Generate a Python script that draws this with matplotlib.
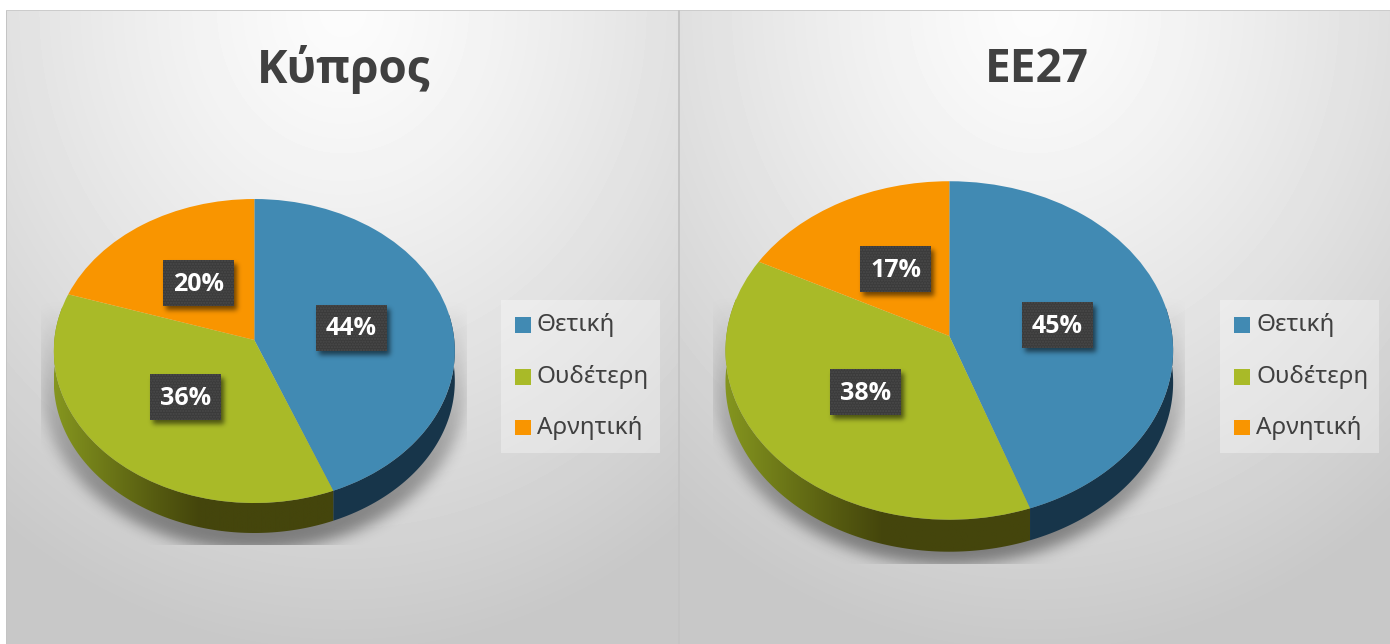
import numpy as np
import matplotlib
matplotlib.use('Agg')
import matplotlib.pyplot as plt
from matplotlib.patches import Rectangle, Polygon
from matplotlib.transforms import Transform

# dados
categorias = ['Θετική', 'Ουδέτερη', 'Αρνητική']
titulos = ['Κύπρος', 'ΕΕ27']
valores_cy = [44, 36, 20]
valores_eu = [44.6, 38, 17.4]
cores = ['#418AB3', '#A9BA28', '#F99500']

FONTE = 'Noto Sans'
FONTE_B = 'Open Sans'


class Perspectiva(Transform):
    # leva o circulo unitario do pie para a elipse em perspectiva (pixels)
    input_dims = 2
    output_dims = 2

    def __init__(self, cx, cy, R, c, k):
        super().__init__()
        self.cx, self.cy, self.R, self.c, self.k = cx, cy, R, c, k

    def transform_non_affine(self, values):
        v = np.asarray(values, dtype=float)
        d = 1 + self.k * v[:, 1]
        return np.column_stack((self.cx + self.R * v[:, 0] / d, self.cy - self.c * v[:, 1] / d))


def borrar(m, s):
    n = int(s * 3)
    g = np.exp(-0.5 * (np.arange(-n, n + 1) / s) ** 2)
    g = g / g.sum()
    m = np.apply_along_axis(lambda r: np.convolve(r, g, mode='same'), 0, m)
    m = np.apply_along_axis(lambda r: np.convolve(r, g, mode='same'), 1, m)
    return m


def sombra(ax, x0, x1, y0, y1, mascara, z):
    rgba = np.zeros(mascara.shape + (4,))
    rgba[..., 3] = mascara
    ax.imshow(rgba, extent=(x0, x1, y1, y0), aspect='auto', zorder=z, interpolation='bilinear')


def fundo(ax, x0, x1):
    cx = (x0 + x1) / 2
    xx, yy = np.meshgrid(np.arange(x0, x1), np.arange(10, 644))
    t = np.sqrt(((xx - cx) / 600) ** 2 + ((yy - 10) / 680) ** 2)
    img = np.clip(252 - 56 * t ** 1.25, 200, 252) / 255
    ax.imshow(img, extent=(x0, x1, 644, 10), cmap='gray', vmin=0, vmax=1, aspect='auto', zorder=0)


def aro(p, graus):
    a = np.radians(graus)
    return p.transform_non_affine(np.column_stack((np.sin(a), np.cos(a))))


def parede(ax, p, g0, g1, prof, z, cor=None):
    pts = aro(p, np.linspace(g0, g1, 120))
    baixo = pts + [0, prof]
    poly = Polygon(np.vstack((pts, baixo[::-1])), closed=True, fc=cor if cor else 'none', ec='none', zorder=z)
    ax.add_patch(poly)
    if cor is None:
        # degrade do verde na lateral
        xs = np.array([0, 0.37, 0.52, 1.0])
        c0 = np.array([[0x85, 0x96, 0x1F], [0x55, 0x5A, 0x10], [0x44, 0x45, 0x0C], [0x44, 0x45, 0x0C]]) / 255
        u = np.linspace(0, 1, 300)
        grad = np.column_stack([np.interp(u, xs, c0[:, i]) for i in range(3)])[None, :, :]
        x0, x1 = pts[:, 0].min(), pts[:, 0].max()
        y0, y1 = pts[:, 1].min(), baixo[:, 1].max()
        im = ax.imshow(grad, extent=(x0, x1, y1, y0), aspect='auto', zorder=z)
        im.set_clip_path(poly)


def painel(ax, valores, titulo, x_tit, p, prof, caixas, x_leg):
    # sombra do pie
    cx, cy, R = p.cx, p.cy, p.R
    x0, x1 = int(cx - R - 40), int(cx + R + 40)
    y0, y1 = int(cy - 60), 600
    xx, yy = np.meshgrid(np.arange(x0, x1) + .5, np.arange(y0, y1) + .5)
    cbase = cy + 11 + prof + 6
    fundo_y = cy + p.c / (1 - p.k) + prof + 12
    elip = ((xx - cx) / (R + 12)) ** 2 + ((yy - cbase) / (p.c + 12)) ** 2 <= 1
    acima = (np.abs(xx - cx) <= R + 12) & (yy < cbase)
    rampa = np.clip((yy - (cy - 35)) / (cbase + p.c - cy + 35), 0, 1) ** 0.9
    m = borrar(((elip | acima) * rampa * 0.42).astype(float), 7)
    m = m * (np.abs(xx - cx) <= R + 13) * (yy <= fundo_y)
    sombra(ax, x0, x1, y0, y1, m, 1)

    # lateral
    limite = np.cumsum(valores) / np.sum(valores) * 360
    parede(ax, p, 80, limite[0], prof, 2, '#17354A')
    parede(ax, p, 283, limite[0], prof, 2)

    # topo
    fatias, _ = ax.pie(valores, colors=cores, startangle=90, counterclock=False,
                       wedgeprops={'linewidth': 0})
    for f in fatias:
        f.set_transform(p + ax.transData)
        f.set_zorder(3)
        f.set_clip_on(False)

    # rotulos de dados
    for v, (bx, by) in zip(valores, caixas):
        mx0, mx1, my0, my1 = bx - 15, bx + 90, by - 15, by + 65
        xx, yy = np.meshgrid(np.arange(mx0, mx1) + .5, np.arange(my0, my1) + .5)
        q = (xx > bx + 3) & (xx < bx + 71 + 3) & (yy > by + 4) & (yy < by + 46 + 4)
        sombra(ax, mx0, mx1, my0, my1, borrar(q * 0.55, 2.5), 4)
        ax.add_patch(Rectangle((bx, by), 71, 46, fc='#3B3B3B', ec='#4A4A4A', hatch='......', lw=0, zorder=5))
        ax.text(bx + 35.5, by + 24, f'{round(v)}%', color='white', fontsize=18, fontweight='bold',
                family=FONTE_B, ha='center', va='center', zorder=6)

    # legenda
    ax.add_patch(Rectangle((x_leg, 300), 159, 153, fc='white', alpha=0.33, lw=0, zorder=2))
    for cat, cor, ys, yt in zip(categorias, cores, [317, 369, 419.5], [325, 376.5, 427.5]):
        ax.add_patch(Rectangle((x_leg + 14, ys), 15.5, 15.5, fc=cor, lw=0, zorder=3))
        ax.text(x_leg + 36, yt, cat, color='#404040', fontsize=17.5, family=FONTE, ha='left', va='center', zorder=3)

    ax.text(x_tit, 69, titulo, color='#404040', fontsize=33, fontweight='bold', family=FONTE_B,
            ha='center', va='center', zorder=3)


fig = plt.figure(figsize=(13.9, 6.44), dpi=100, facecolor='white')
ax = fig.add_axes([0, 0, 1, 1])

fundo(ax, 7, 678)
fundo(ax, 680, 1390)
ax.add_patch(Rectangle((5.5, 9.5), 1.5, 640, fc='#C4C4C4', lw=0, zorder=1))
ax.add_patch(Rectangle((5.5, 9.5), 1390, 1.2, fc='#CCCCCC', lw=0, zorder=1))
ax.add_patch(Rectangle((677.5, 10), 2.5, 640, fc='#C4C4C4', lw=0, zorder=1))

p1 = Perspectiva(254.3, 340, 200, 151.2, 0.0724)
p2 = Perspectiva(949.3, 336, 223, 168, 0.0855)

painel(ax, valores_cy, titulos[0], 344, p1, 30,
       [(316, 304.5), (150, 374), (163, 260)], 501)
painel(ax, valores_eu, titulos[1], 1037, p2, 32,
       [(1022, 302), (830, 369), (860, 246)], 1220)

ax.set_aspect('auto')
ax.set_xlim(0, 1390)
ax.set_ylim(644, 0)
ax.axis('off')

fig.savefig('out.png', dpi=100)
